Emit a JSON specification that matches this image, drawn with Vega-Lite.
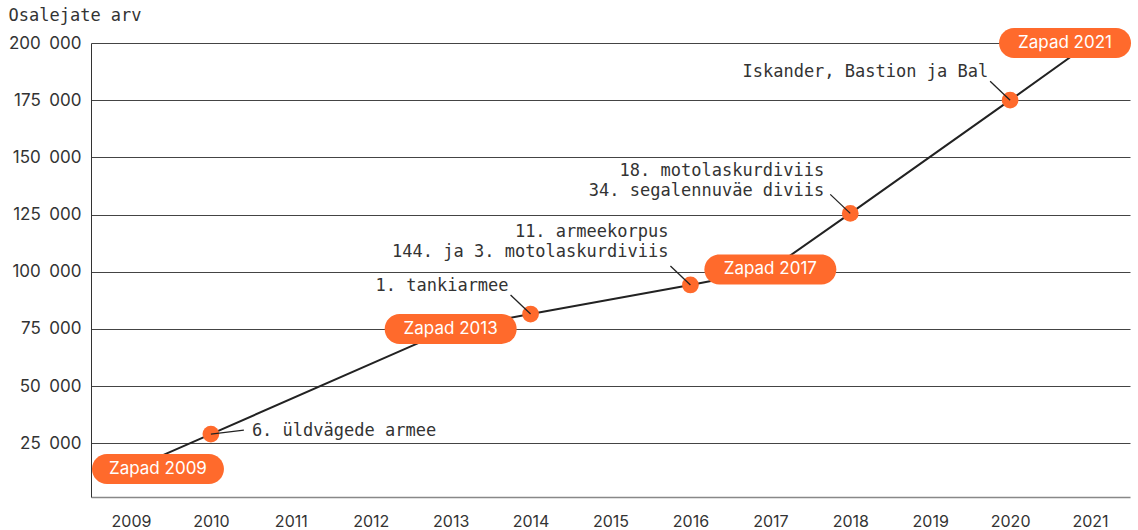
{
  "$schema": "https://vega.github.io/schema/vega-lite/v6.json",
  "width": 1039,
  "height": 454,
  "autosize": "none",
  "padding": {"left": 91, "top": 43, "right": 8, "bottom": 33},
  "background": "white",
  "config": {"view": {"stroke": null}},
  "data": {
    "values": [
      {"year": 2009, "value": 13700, "kind": "zapad", "label": "Zapad 2009"},
      {"year": 2010, "value": 29000, "kind": "unit", "label": "6. üldvägede armee"},
      {"year": 2013, "value": 75000, "kind": "zapad", "label": "Zapad 2013"},
      {"year": 2014, "value": 81500, "kind": "unit", "label": "1. tankiarmee"},
      {"year": 2016, "value": 94200, "kind": "unit", "label": "11. armeekorpus\n144. ja 3. motolaskurdiviis"},
      {"year": 2017, "value": 101000, "kind": "zapad", "label": "Zapad 2017"},
      {"year": 2018, "value": 125500, "kind": "unit", "label": "18. motolaskurdiviis\n34. segalennuväe diviis"},
      {"year": 2020, "value": 175000, "kind": "unit", "label": "Iskander, Bastion ja Bal"},
      {"year": 2021, "value": 200000, "kind": "zapad", "label": "Zapad 2021"}
    ]
  },
  "encoding": {
    "x": {
      "field": "year", "type": "quantitative",
      "scale": {"domain": [2008.5, 2021.5], "nice": false, "zero": false},
      "axis": {
        "title": null,
        "values": [2009, 2010, 2011, 2012, 2013, 2014, 2015, 2016, 2017, 2018, 2019, 2020, 2021],
        "format": "d", "grid": false, "ticks": false, "labelPadding": 16,
        "labelFont": "Inter", "labelFontSize": 16, "labelColor": "#333",
        "domainColor": "#888", "domainWidth": 1.5
      }
    },
    "y": {
      "field": "value", "type": "quantitative",
      "scale": {"domain": [1500, 200000], "nice": false, "zero": false},
      "axis": {
        "title": "Osalejate arv",
        "titleAngle": 0, "titleAlign": "left", "titleBaseline": "alphabetic",
        "titleX": -83, "titleY": -23,
        "titleFont": "DejaVu Sans Mono", "titleFontSize": 17, "titleFontWeight": "normal", "titleColor": "#333",
        "values": [25000, 50000, 75000, 100000, 125000, 150000, 175000, 200000],
        "labelExpr": "replace(format(datum.value, ','), ',', '\u2002')",
        "grid": true, "gridColor": "#444", "gridWidth": 1,
        "domain": true, "domainColor": "#333", "ticks": false, "labelPadding": 10,
        "labelFont": "Inter", "labelFontSize": 17, "labelColor": "#333"
      }
    }
  },
  "layer": [
    {"mark": {"type": "line", "color": "#222", "strokeWidth": 2}},
    {
      "transform": [{"filter": "datum.kind == 'unit'"}],
      "mark": {"type": "point", "filled": true, "color": "#FF6A2C", "opacity": 1, "size": 280}
    },
    {
      "transform": [{"filter": "datum.kind == 'unit' && datum.year != 2010"}],
      "mark": {"type": "rule", "color": "#222", "strokeWidth": 1.3, "x2Offset": -20, "y2Offset": -19},
      "encoding": {"x2": {"field": "year"}, "y2": {"field": "value"}}
    },
    {
      "transform": [{"filter": "datum.year == 2010"}],
      "mark": {"type": "rule", "color": "#222", "strokeWidth": 1.3, "x2Offset": 33, "y2Offset": -4},
      "encoding": {"x2": {"field": "year"}, "y2": {"field": "value"}}
    },
    {
      "transform": [{"filter": "datum.year == 2010"}],
      "mark": {"type": "text", "align": "left", "baseline": "alphabetic", "dx": 41, "dy": 2, "font": "DejaVu Sans Mono", "fontSize": 17, "color": "#333"},
      "encoding": {"text": {"field": "label"}}
    },
    {
      "transform": [{"filter": "datum.year == 2014 || datum.year == 2020"}],
      "mark": {"type": "text", "align": "right", "baseline": "bottom", "dx": -22, "dy": -19, "font": "DejaVu Sans Mono", "fontSize": 17, "color": "#333", "lineBreak": "\n", "lineHeight": 20},
      "encoding": {"text": {"field": "label"}}
    },
    {
      "transform": [{"filter": "datum.year == 2016"}],
      "mark": {"type": "text", "align": "right", "baseline": "bottom", "dx": -22, "dy": -44, "font": "DejaVu Sans Mono", "fontSize": 17, "color": "#333", "lineBreak": "\n", "lineHeight": 20},
      "encoding": {"text": {"field": "label"}}
    },
    {
      "transform": [{"filter": "datum.year == 2018"}],
      "mark": {"type": "text", "align": "right", "baseline": "bottom", "dx": -26, "dy": -33, "font": "DejaVu Sans Mono", "fontSize": 17, "color": "#333", "lineBreak": "\n", "lineHeight": 20},
      "encoding": {"text": {"field": "label"}}
    },
    {
      "transform": [{"filter": "datum.kind == 'zapad' && datum.year != 2009 && datum.year != 2021"}],
      "mark": {"type": "point", "filled": true, "color": "#FF6A2C", "opacity": 1, "size": 17424,
        "shape": "M-0.7727,-0.2273L0.7727,-0.2273A0.2273,0.2273,0,0,1,0.7727,0.2273L-0.7727,0.2273A0.2273,0.2273,0,0,1,-0.7727,-0.2273Z"}
    },
    {
      "transform": [{"filter": "datum.year == 2009"}],
      "mark": {"type": "point", "filled": true, "color": "#FF6A2C", "opacity": 1, "size": 17424, "xOffset": 27,
        "shape": "M-0.7727,-0.2273L0.7727,-0.2273A0.2273,0.2273,0,0,1,0.7727,0.2273L-0.7727,0.2273A0.2273,0.2273,0,0,1,-0.7727,-0.2273Z"}
    },
    {
      "transform": [{"filter": "datum.year == 2021"}],
      "mark": {"type": "point", "filled": true, "color": "#FF6A2C", "opacity": 1, "size": 17424, "xOffset": -25,
        "shape": "M-0.7727,-0.2273L0.7727,-0.2273A0.2273,0.2273,0,0,1,0.7727,0.2273L-0.7727,0.2273A0.2273,0.2273,0,0,1,-0.7727,-0.2273Z"}
    },
    {
      "transform": [{"filter": "datum.kind == 'zapad' && datum.year != 2009 && datum.year != 2021"}],
      "mark": {"type": "text", "align": "center", "baseline": "middle", "font": "Inter", "fontSize": 17, "color": "white"},
      "encoding": {"text": {"field": "label"}}
    },
    {
      "transform": [{"filter": "datum.year == 2009"}],
      "mark": {"type": "text", "align": "center", "baseline": "middle", "dx": 27, "font": "Inter", "fontSize": 17, "color": "white"},
      "encoding": {"text": {"field": "label"}}
    },
    {
      "transform": [{"filter": "datum.year == 2021"}],
      "mark": {"type": "text", "align": "center", "baseline": "middle", "dx": -25, "font": "Inter", "fontSize": 17, "color": "white"},
      "encoding": {"text": {"field": "label"}}
    }
  ]
}
